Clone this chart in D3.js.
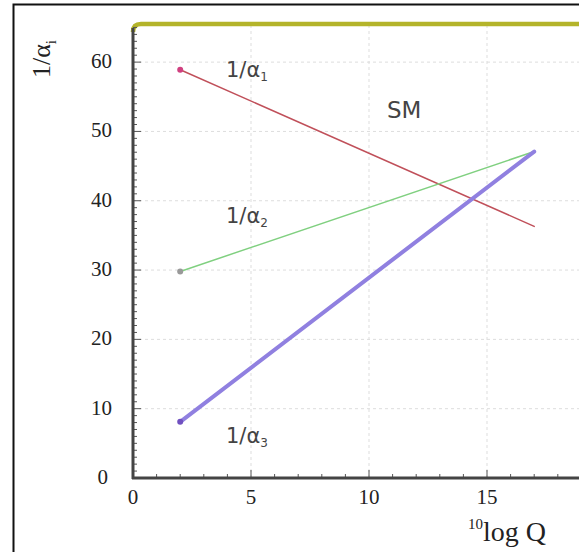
<!DOCTYPE html>
<html lang="en">
<head>
<meta charset="utf-8">
<script src="https://d3js.org/d3.v7.min.js"></script>
<style>
  body { margin: 0; background: white; }
  .tick-label { font-family: "Liberation Serif", "DejaVu Serif", serif; font-size: 21px; fill: #222; }
  .curve-label { font-family: "DejaVu Sans", "Open Sans", sans-serif; font-size: 21px; fill: #444; }
  .grid line { stroke: #ddd; stroke-width: 1; stroke-dasharray: 3,3; }
</style>
</head>
<body>
<div id="chart"></div>
<script>
// data: running inverse couplings in the Standard Model
var logQ = [2, 17];
var invAlpha1 = [58.9, 36.3];
var invAlpha2 = [29.8, 47.1];
var invAlpha3 = [8.1, 47.1];
var xTicks = [0, 5, 10, 15];
var yTicks = [0, 10, 20, 30, 40, 50, 60];

var series = [
  { name: "1", values: invAlpha1, color: "#c0505a", width: 1.5, dot: "#d04080" },
  { name: "2", values: invAlpha2, color: "#80d080", width: 1.5, dot: "#999" },
  { name: "3", values: invAlpha3, color: "#9080e0", width: 4, dot: "#7050c0" }
];

var w = 579, h = 552;
var svg = d3.select("#chart").append("svg").attr("width", w).attr("height", h);

var x = d3.scaleLinear().domain([0, 20]).range([133, 605]);
var y = d3.scaleLinear().domain([0, 65.5]).range([478, 24]);

// outer frame
svg.append("rect").attr("x", 13.5).attr("y", 4.5).attr("width", 600).attr("height", 600)
  .attr("fill", "none").attr("stroke", "#111").attr("stroke-width", 2);

// grid
var grid = svg.append("g").attr("class", "grid");
grid.selectAll("line.v").data(xTicks.filter(function(d) { return d > 0; })).enter().append("line")
  .attr("x1", function(d) { return x(d); }).attr("x2", function(d) { return x(d); })
  .attr("y1", y(0)).attr("y2", y(65.5));
grid.selectAll("line.h").data(yTicks.filter(function(d) { return d > 0; })).enter().append("line")
  .attr("x1", x(0)).attr("x2", w).attr("y1", function(d) { return y(d); }).attr("y2", function(d) { return y(d); });

// top border
svg.append("path").attr("d", "M" + x(0) + "," + (y(65.5) + 8) + " Q" + x(0) + "," + y(65.5) + " " + (x(0) + 8) + "," + y(65.5) + " L" + w + "," + y(65.5))
  .attr("fill", "none").attr("stroke", "#b4b42a").attr("stroke-width", 4.5);

// minor ticks (inward)
var yMinor = d3.range(0, 66, 1);
svg.append("g").selectAll("line").data(yMinor).enter().append("line")
  .attr("x1", x(0)).attr("x2", function(d) { return x(0) + (d % 10 === 0 ? 8 : 4); })
  .attr("y1", function(d) { return y(d); }).attr("y2", function(d) { return y(d); })
  .attr("stroke", "#555").attr("stroke-width", 1);
var xMinor = d3.range(0, 20, 1);
svg.append("g").selectAll("line").data(xMinor).enter().append("line")
  .attr("x1", function(d) { return x(d); }).attr("x2", function(d) { return x(d); })
  .attr("y1", y(0)).attr("y2", function(d) { return y(0) - (d % 5 === 0 ? 8 : 4); })
  .attr("stroke", "#555").attr("stroke-width", 1);

// axes lines
svg.append("line").attr("x1", x(0)).attr("x2", x(0)).attr("y1", y(0) + 1).attr("y2", y(65.5) + 4)
  .attr("stroke", "#444").attr("stroke-width", 3);
svg.append("line").attr("x1", x(0) - 1).attr("x2", w).attr("y1", y(0)).attr("y2", y(0))
  .attr("stroke", "#444").attr("stroke-width", 3);

// tick labels
svg.selectAll("text.yl").data(yTicks).enter().append("text").attr("class", "tick-label")
  .attr("x", function(d) { return d === 0 ? 108 : 112; }).attr("y", function(d) { return y(d) + 6; })
  .attr("text-anchor", "end").text(function(d) { return d; });
svg.selectAll("text.xl").data(xTicks).enter().append("text").attr("class", "tick-label")
  .attr("x", function(d) { return x(d); }).attr("y", y(0) + 26)
  .attr("text-anchor", "middle").text(function(d) { return d; });

// axis titles
var yt = svg.append("text").attr("class", "tick-label").style("font-size", "26px").style("fill", "#222")
  .attr("transform", "translate(50,78) rotate(-90)");
yt.append("tspan").text("1/\u03b1");
yt.append("tspan").attr("dy", 6).style("font-size", "15px").text("i");

var xt = svg.append("text").attr("class", "tick-label").style("font-size", "28px").style("fill", "#222")
  .attr("x", 468).attr("y", 541);
xt.append("tspan").attr("dy", -12).style("font-size", "15px").text("10");
xt.append("tspan").attr("dy", 12).text("log Q");

// curves
var line = d3.line().x(function(d, i) { return x(logQ[i]); }).y(function(d) { return y(d); });
series.forEach(function(s) {
  svg.append("path").datum(s.values).attr("d", line).attr("fill", "none")
    .attr("stroke", s.color).attr("stroke-width", s.width).attr("stroke-linecap", "round");
  svg.append("circle").attr("cx", x(logQ[0])).attr("cy", y(s.values[0])).attr("r", 3).attr("fill", s.dot);
});

// curve labels
function curveLabel(px, py, sub) {
  var t = svg.append("text").attr("class", "curve-label").attr("x", px).attr("y", py);
  t.append("tspan").text("1/\u03b1");
  t.append("tspan").attr("dy", 4).style("font-size", "12px").text(sub);
}
curveLabel(226, 77, "1");
curveLabel(226, 223, "2");
curveLabel(226, 443, "3");
svg.append("text").attr("class", "curve-label").style("font-size", "23px").attr("x", 387).attr("y", 118).text("SM");
</script>
</body>
</html>
